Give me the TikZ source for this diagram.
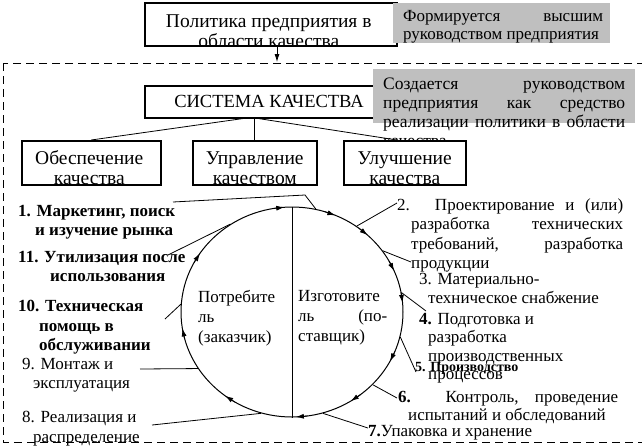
\documentclass[tikz,border=0pt]{standalone}
\usepackage{fontspec}
\setmainfont{Liberation Serif}
\usetikzlibrary{arrows.meta,calc,shapes.geometric}
\colorlet{qmgray}{gray!50}
\tikzset{
  qmframe/.style={draw, line width=1.5pt, fill=white, inner sep=0pt,
                  anchor=north west},
  qmtitle/.style={font=\fontsize{19.5}{20}\selectfont, align=center,
                  inner sep=0pt, anchor=north},
  qmnote/.style={fill=qmgray, inner sep=0pt, anchor=north west},
  qmnotetext/.style={font=\fontsize{17}{18.5}\selectfont, align=left,
                     inner sep=0pt, anchor=north west},
  qmstage/.style={font=\fontsize{17}{19.5}\selectfont, align=left,
                  inner sep=0pt, anchor=north west},
  qmbold/.style={qmstage, font=\bfseries\fontsize{17}{19.5}\selectfont},
  qmleader/.style={line width=0.8pt},
  qmtip/.style={-{Latex[length=8pt,width=5pt]}, line width=0.8pt}
}

\begin{document}
\begin{tikzpicture}[x=1pt,y=-1pt]
  \useasboundingbox (0,0) rectangle (642,445);

  % quality system frame
  \draw[line width=0.8pt, dash pattern=on 8pt off 5pt] (3,63) rectangle (660,442);

  % policy and notes
  \node[qmframe, minimum width=252pt, minimum height=43pt,
    path picture={\node[qmtitle] at ($(path picture bounding box.north)+(-2,6.5)$)
      {Политика предприятия в\\области качества};}] (policy) at (144,2) {};
  \node[qmnote, minimum width=217pt, minimum height=40pt] (formed) at (393,3) {};
  \node[qmnotetext] (formedtext) at (403,10)
    {\makebox[200pt][s]{Формируется высшим}\\руководством предприятия};
  \coordinate (entry) at (277,62);
  \draw[qmtip] (policy.south -| entry) -- (entry);

  \node[qmframe, minimum width=231pt, minimum height=32pt,
    path picture={\node[qmtitle, anchor=west, font=\fontsize{18.5}{20}\selectfont]
      at ($(path picture bounding box.west)+(8,0)$) {СИСТЕМА КАЧЕСТВА};}]
    (system) at (144,85) {};
  \node[qmnote, minimum width=262pt, minimum height=54pt] (created) at (373,69) {};
  \node[qmnotetext, font=\fontsize{17.5}{19}\selectfont] (createdtext) at (383,77.5)
    {\makebox[242pt][s]{Создается руководством}\\
     \makebox[242pt][s]{предприятия как средство}\\
     \makebox[242pt][s]{реализации политики в области}\\качества};

  % three functions
  \node[qmframe, minimum width=139pt, minimum height=44pt,
    path picture={\node[qmtitle] at ($(path picture bounding box.north)+(-2,4.5)$)
      {Обеспечение\\качества};}] (assure) at (21,140) {};
  \node[qmframe, minimum width=124pt, minimum height=44pt,
    path picture={\node[qmtitle] at ($(path picture bounding box.north)+(0,4.5)$)
      {Управление\\качеством};}] (manage) at (192,140) {};
  \node[qmframe, minimum width=122pt, minimum height=44pt,
    path picture={\node[qmtitle] at ($(path picture bounding box.north)+(0,4.5)$)
      {Улучшение\\качества};}] (improve) at (343,140) {};

  \draw[qmleader] ([xshift=-17pt]system.south) -- (assure.north);
  \draw[qmleader] (manage.north |- system.south) -- (manage.north);
  \draw[qmleader] ([xshift=-2pt]system.south) -- ([xshift=-8pt]improve.north);

  % loop of quality
  \node[ellipse, draw, line width=1pt, minimum width=222pt, minimum height=210pt,
        inner sep=0pt] (cycle) at (292,312) {};
  \draw[qmleader] (cycle.north) -- (cycle.south);
  \foreach \a in {266,293,313,337,355,28,58,88,127,171,214}
    \draw[qmtip] ($(cycle.center)+({\a-6}:111 and 105)$)
      -- ($(cycle.center)+(\a:111 and 105)$);

  \node[qmstage, font=\fontsize{17}{20}\selectfont] (consumer) at (198,290)
    {Потребите\\ль\\(заказчик)};
  \node[qmstage, font=\fontsize{17}{20}\selectfont] (producer) at (298,290)
    {Изготовите\\\makebox[89pt][s]{ль (по-}\\ставщик)};

  % stages, left side
  \node[qmbold] (market) at (18,205) {1. Маркетинг, поиск\\\hspace*{17pt}и изучение рынка};
  \node[qmbold] (reuse) at (18,251) {11. Утилизация после\\\hspace*{32pt}использования};
  \node[qmbold] (service) at (18,300)
    {10. Техническая\\\hspace*{21pt}помощь в\\\hspace*{21pt}обслуживании};
  \node[qmstage] (mount) at (22,358) {9. Монтаж и\\\hspace*{11pt}эксплуатация};
  \node[qmstage] (sale) at (22,411) {8. Реализация и\\\hspace*{11pt}распределение};

  % stages, right side
  \node[qmstage] (design) at (397,198)
    {\makebox[226pt][s]{2. Проектирование и (или)}\\
     \hspace*{14pt}\makebox[212pt][s]{разработка технических}\\
     \hspace*{14pt}\makebox[212pt][s]{требований, разработка}\\
     \hspace*{14pt}продукции};
  \node[qmstage] (supply) at (419,273) {3. Материально-\\\hspace*{9pt}техническое снабжение};
  \node[qmstage, font=\fontsize{17}{18.5}\selectfont] (prep) at (419,313)
    {\textbf{4.} Подготовка и\\\hspace*{9pt}разработка\\
     \hspace*{9pt}производственных\\\hspace*{9pt}процессов};
  \node[qmbold, font=\bfseries\fontsize{14}{16}\selectfont] (make) at (415,362)
    {5. Производство};
  \node[qmstage, font=\fontsize{17}{18.5}\selectfont] (control) at (398,391)
    {\makebox[220pt][s]{\textbf{6.} Контроль, проведение}\\
     \hspace*{10pt}испытаний и обследований};
  \node[qmstage] (pack) at (368,425) {\textbf{7.}Упаковка и хранение};

  % leaders
  \coordinate (t1) at (173,202);
  \coordinate (k1) at (305,195);
  \coordinate (t2) at (397,203);
  \coordinate (t3) at (411,262);
  \coordinate (t4) at (426,311);
  \coordinate (t5) at (416,372);
  \coordinate (t6) at (397,398);
  \coordinate (t7) at (368,428);
  \coordinate (t8) at (152,425);
  \coordinate (t9) at (140,369);
  \coordinate (t10) at (165,319);
  \coordinate (t11) at (168,255);
  \draw[qmleader] (t1) -- (k1) -- (cycle.77);
  \draw[qmleader] (t2) -- (cycle.53);
  \draw[qmleader] (cycle.34) -- (t3);
  \draw[qmleader] (cycle.10) -- (t4);
  \draw[qmleader] (cycle.-13) -- (t5);
  \draw[qmleader] (cycle.-42) -- (t6);
  \draw[qmleader] (cycle.-73) -- (t7);
  \draw[qmleader] (t8) -- (cycle.253);
  \draw[qmleader] (t9) -- (cycle.211);
  \draw[qmleader] (t10) -- (cycle.176);
  \draw[qmleader] (t11) -- (cycle.125);
\end{tikzpicture}
\end{document}
